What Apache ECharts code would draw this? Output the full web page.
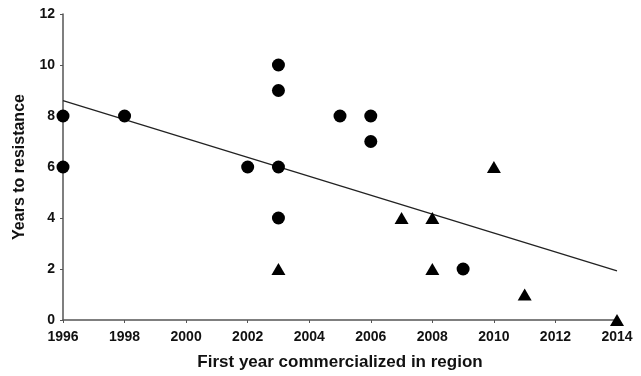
<!DOCTYPE html>
<html>
<head>
<meta charset="utf-8">
<script src="https://cdn.jsdelivr.net/npm/echarts@6/dist/echarts.min.js"></script>
<style>
  html, body { margin: 0; padding: 0; background: #fff; }
  #chart { width: 641px; height: 376px; }
</style>
</head>
<body>
<div id="chart"></div>
<script>
// circles: [year, years to resistance]
const circlePoints = [
  [1996, 8], [1996, 6], [1998, 8], [2002, 6],
  [2003, 10], [2003, 9], [2003, 6], [2003, 4],
  [2005, 8], [2006, 8], [2006, 7], [2009, 2]
]
// triangles
const trianglePoints = [
  [2003, 2], [2007, 4], [2008, 4], [2008, 2],
  [2010, 6], [2011, 1], [2014, 0]
]
// fitted trend line endpoints
const trendLine = [[1996, 8.6], [2014, 1.93]]

const chart = echarts.init(document.getElementById("chart"))

const font = "Liberation Sans, Arial, Helvetica, sans-serif"
const axisColor = "#555"

const option = {
  animation: false,
  backgroundColor: "#fff",
  grid: {
    left: 63,
    right: 24,
    top: 14,
    bottom: 53,
  },
  xAxis: {
    type: "value",
    min: 1996,
    max: 2014,
    interval: 2,
    name: "First year commercialized in region",
    nameLocation: "middle",
    nameGap: 34,
    nameTextStyle: { fontFamily: font, fontWeight: "bold", fontSize: 17, color: "#111" },
    axisLine: { show: true, lineStyle: { color: axisColor, width: 1.5 } },
    axisTick: { show: true, length: 3, lineStyle: { color: axisColor } },
    axisLabel: {
      fontFamily: font, fontWeight: "bold", fontSize: 14, color: "#111", margin: 10,
      formatter: (v) => String(v),
    },
    splitLine: { show: false },
  },
  yAxis: {
    type: "value",
    min: 0,
    max: 12,
    interval: 2,
    name: "Years to resistance",
    nameLocation: "middle",
    nameGap: 35,
    nameTextStyle: { fontFamily: font, fontWeight: "bold", fontSize: 16, color: "#111" },
    axisLine: { show: true, lineStyle: { color: axisColor, width: 1.5 } },
    axisTick: { show: true, length: 3, lineStyle: { color: axisColor } },
    axisLabel: { fontFamily: font, fontWeight: "bold", fontSize: 14, color: "#111", margin: 8 },
    splitLine: { show: false },
  },
  series: [
    {
      type: "line",
      data: trendLine,
      showSymbol: false,
      symbol: "none",
      lineStyle: { color: "#222", width: 1.3 },
      z: 1,
    },
    {
      type: "scatter",
      data: circlePoints,
      symbol: "circle",
      symbolSize: 13,
      itemStyle: { color: "#000", opacity: 1 },
      clip: false,
      z: 3,
    },
    {
      type: "scatter",
      data: trianglePoints,
      symbol: "triangle",
      symbolSize: [14, 12],
      itemStyle: { color: "#000", opacity: 1 },
      clip: false,
      z: 3,
    },
  ],
}

chart.setOption(option)
</script>
</body>
</html>
